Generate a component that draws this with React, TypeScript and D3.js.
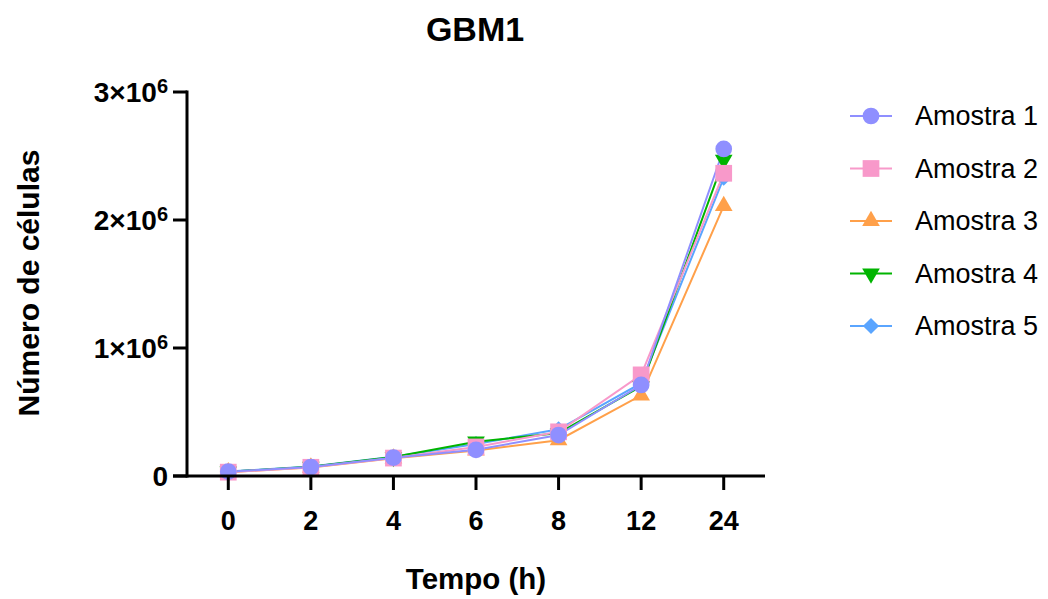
import React from "react";
import * as d3 from "d3";

// data
const categories = ["0", "2", "4", "6", "8", "12", "24"];
const amostra1 = [34000, 70000, 143000, 205000, 320000, 711000, 2555000];
const amostra2 = [30000, 68000, 140000, 227000, 345000, 790000, 2365000];
const amostra3 = [30000, 66000, 138000, 200000, 280000, 630000, 2110000];
const amostra4 = [34000, 72000, 148000, 268000, 335000, 700000, 2470000];
const amostra5 = [36000, 74000, 150000, 250000, 365000, 725000, 2330000];
const seriesNames = ["Amostra 1", "Amostra 2", "Amostra 3", "Amostra 4", "Amostra 5"];
const yTicks = [0, 1e6, 2e6, 3e6];

const colors = ["#8f8fff", "#f899ca", "#ffa04a", "#00b400", "#5aa5ff"];
const FONT = "'Liberation Sans', Arial, sans-serif";

const series = [amostra1, amostra2, amostra3, amostra4, amostra5].map((values, i) => ({
  name: seriesNames[i],
  color: colors[i],
  values,
}));

// marker paths per series
function markerPath(i: number) {
  if (i === 0) return d3.symbol(d3.symbolCircle, 220)()!;
  if (i === 1) return d3.symbol(d3.symbolSquare, 280)()!;
  if (i === 2) return d3.symbol(d3.symbolTriangle, 135)()!;
  if (i === 3) return d3.symbol(d3.symbolTriangle, 135)()!;
  return d3.symbol(d3.symbolSquare, 130)()!;
}
function markerRotate(i: number) {
  if (i === 3) return " rotate(180)";
  if (i === 4) return " rotate(45)";
  return "";
}

export default function App() {
  const width = 1048;
  const height = 599;
  const left = 187, right = 765, top = 92, bottom = 476;

  const x = d3.scalePoint<string>().domain(categories).range([left, right]).padding(0.5);
  const y = d3.scaleLinear().domain([0, 3e6]).range([bottom, top]);

  const line = d3
    .line<number>()
    .x((d, i) => x(categories[i])!)
    .y((d) => y(d));

  const drawOrder = [4, 3, 2, 1, 0];

  return (
    <svg
      width={width}
      height={height}
      style={{ position: "absolute", left: 0, top: 0, background: "#fff" }}
      fontFamily={FONT}
    >
      {/* title */}
      <text x={475} y={41} textAnchor="middle" fontSize={34} fontWeight="bold">
        GBM1
      </text>

      {/* lines */}
      {drawOrder.map((i) => (
        <path key={"l" + i} d={line(series[i].values)!} fill="none" stroke={series[i].color} strokeWidth={2} />
      ))}
      {/* markers */}
      {drawOrder.map((i) =>
        series[i].values.map((v, j) => (
          <path
            key={"m" + i + "-" + j}
            d={markerPath(i)}
            fill={series[i].color}
            transform={`translate(${x(categories[j])},${y(v)})${markerRotate(i)}`}
          />
        ))
      )}

      {/* axes */}
      <g stroke="#000" strokeWidth={3} fill="none">
        <line x1={left} x2={left} y1={top - 1.5} y2={bottom + 1.5} />
        <line x1={left - 14} x2={right} y1={bottom} y2={bottom} />
        {yTicks.map((t) => (
          <line key={t} x1={left - 14} x2={left} y1={y(t)} y2={y(t)} />
        ))}
        {categories.map((c) => (
          <line key={c} x1={x(c)} x2={x(c)} y1={bottom} y2={bottom + 14} />
        ))}
      </g>

      {/* y tick labels */}
      {yTicks.map((t) =>
        t === 0 ? (
          <text key={t} x={168} y={y(t) + 10} textAnchor="end" fontSize={28} fontWeight="bold">
            0
          </text>
        ) : (
          <text key={t} x={168} y={y(t) + 10} textAnchor="end" fontSize={28} fontWeight="bold">
            {`${t / 1e6}×10`}
            <tspan fontSize={20} dy={-9}>6</tspan>
          </text>
        )
      )}

      {/* x tick labels */}
      {categories.map((c) => (
        <text key={c} x={x(c)} y={530} textAnchor="middle" fontSize={27} fontWeight="bold">
          {c}
        </text>
      ))}

      {/* axis titles */}
      <text x={476} y={589} textAnchor="middle" fontSize={29.5} fontWeight="bold">
        Tempo (h)
      </text>
      <text
        transform={`translate(39,283) rotate(-90)`}
        textAnchor="middle"
        fontSize={30}
        fontWeight="bold"
      >
        Número de células
      </text>

      {/* legend */}
      {series.map((s, i) => {
        const ly = 116 + i * 52.5;
        return (
          <g key={s.name}>
            <line x1={850} x2={892} y1={ly} y2={ly} stroke={s.color} strokeWidth={2} />
            <path d={markerPath(i)} fill={s.color} transform={`translate(871,${ly})${markerRotate(i)}`} />
            <text x={915} y={ly + 9} fontSize={27}>
              {s.name}
            </text>
          </g>
        );
      })}
    </svg>
  );
}
